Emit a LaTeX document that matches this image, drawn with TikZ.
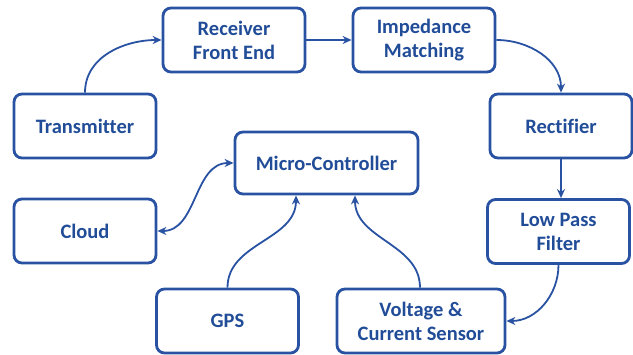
\documentclass[tikz,border=0pt]{standalone}
\usepackage{fontspec}
\setmainfont[Ligatures=NoCommon]{Carlito}
\usetikzlibrary{arrows.meta}
\definecolor{bl}{RGB}{41,82,163}
\definecolor{tx}{RGB}{33,76,152}
\begin{document}
\begin{tikzpicture}[x=1pt,y=-1pt,
  blk/.style={draw=bl,line width=2.8pt,rounded corners=8pt,minimum width=142pt,minimum height=64pt,align=center,text=tx,font=\fontsize{20.5}{24}\selectfont\bfseries,inner sep=0pt},
  con/.style={draw=bl,line width=1.8pt,-{Stealth[length=9pt,width=8pt]}},
  bcon/.style={draw=bl,line width=1.8pt,{Stealth[length=9pt,width=8pt]}-{Stealth[length=9pt,width=8pt]}}]
\useasboundingbox (0,0) rectangle (633,355);
\node[blk] (tr) at (85,126) {Transmitter};
\node[blk] (rfe) at (234,40) {Receiver\\Front End};
\node[blk] (im) at (424,40) {Impedance\\Matching};
\node[blk] (re) at (561,126) {Rectifier};
\node[blk,minimum width=183pt,minimum height=62pt] (mc) at (326.5,163) {Micro-Controller};
\node[blk] (cl) at (85,231) {Cloud};
\node[blk] (lpf) at (558.5,231.5) {Low Pass\\Filter};
\node[blk] (gps) at (227.5,321) {GPS};
\node[blk,minimum width=168pt] (vc) at (421,321) {Voltage \&\\Current Sensor};
\draw[con] (tr.north) to[out=90,in=180] (rfe.west);
\draw[con] (rfe.east) -- (im.west);
\draw[con] (im.east) to[out=0,in=90] (re.north);
\draw[con] (re.south) -- (re.south |- lpf.north);
\draw[con] (lpf.south) to[out=-90,in=0] (vc.east);
\draw[con] (vc.north -| 420,0) to[out=90,in=-90] (mc.south -| 355,0);
\draw[con] (gps.north) to[out=90,in=-90] (mc.south -| 296,0);
\draw[bcon] (cl.east) to[out=0,in=180] (mc.west);
\end{tikzpicture}
\end{document}
